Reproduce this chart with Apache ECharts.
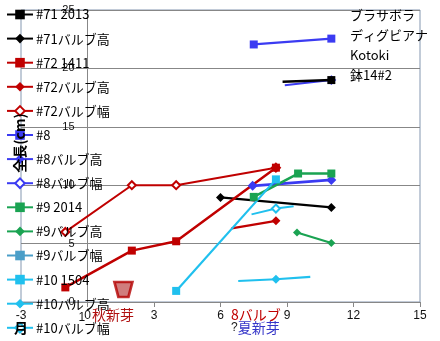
<!DOCTYPE html>
<html><head><meta charset="utf-8">
<script src="https://cdn.jsdelivr.net/npm/echarts@6/dist/echarts.min.js"></script>
<style>html,body{margin:0;padding:0;background:#fff}#c{width:440px;height:341px}</style>
</head><body><div id="c"></div>
<script>
// axis ranges / ticks
const xMin = -3, xMax = 15, xStep = 3;
const yMin = 0, yMax = 25, yStep = 5;

// series values (x = month, y = length cm)
const x71a = [8.8, 11.0],            y71a = [18.85, 19.0];
const x71h = [6.0, 11.0],            y71h = [8.95, 8.1];
const x72a = [-1, 2, 4, 8.5],        y72a = [1.25, 4.4, 5.2, 11.5];
const x72h = [6.5, 8.5],             y72h = [6.3, 6.95];
const x72w = [-1, 2, 4, 8.5],        y72w = [6.0, 10.0, 10.0, 11.5];
const x8a  = [7.5, 11.0],            y8a  = [22.05, 22.55];
const x8h  = [7.45, 11.0],           y8h  = [9.95, 10.45];
const x8w  = [8.9, 11.0],            y8w  = [18.55, 19.0];
const x9a  = [7.5, 9.5, 11.0],       y9a  = [9.0, 11.0, 11.0];
const x9h  = [9.45, 11.0],           y9h  = [5.95, 5.05];
const x9w  = [],                     y9w  = [];
const x10a = [4, 8.5],               y10a = [0.95, 10.5];
const x10h = [6.8, 8.5, 10.05],      y10h = [1.8, 1.95, 2.15];
const x10w = [7.4, 8.5, 9.3],        y10w = [7.5, 8.0, 8.2];

// annotation shape position (秋新芽 marker)
const annX = [1.62], annY = [1.07];

const legendNames = ['#71 2013','#71バルブ高','#72 1411','#72バルブ高','#72バルブ幅',
  '#8','#8バルブ高','#8バルブ幅','#9 2014','#9バルブ高','#9バルブ幅',
  '#10 1504','#10バルブ高','#10バルブ幅'];
const rightLabels = ['ブラサボラ','ディグビアナ','Kotoki','鉢14#2'];

function pts(xs, ys, marked) {
  return xs.map((x, i) => {
    const d = { value: [x, ys[i]] };
    if (marked && marked.indexOf(i) < 0) d.symbol = 'none';
    return d;
  });
}
function line(name, xs, ys, color, symbol, size, width, marked, z) {
  const empty = symbol.indexOf('empty') === 0;
  return {
    name, type: 'line', data: pts(xs, ys, marked), z: z || 2,
    symbol, symbolSize: size, showAllSymbol: true,
    lineStyle: { color, width },
    itemStyle: { color, borderColor: color, borderWidth: empty ? 1.2 : 0 },
    emphasis: { disabled: true }, animation: false
  };
}
const RED = '#c00000', BLK = '#000000', BLU = '#3b3bf2', GRN = '#1aa352', STB = '#4a9ec8', CYA = '#20c0ee';

const series = [
  line('#71 2013', x71a, y71a, BLK, 'rect', 8, 2.5, [1], 5),
  line('#71バルブ高', x71h, y71h, BLK, 'diamond', 9, 2.2),
  line('#72バルブ幅', x72w, y72w, RED, 'emptyDiamond', 8, 2),
  line('#72 1411', x72a, y72a, RED, 'rect', 8, 2.5),
  line('#72バルブ高', x72h, y72h, RED, 'diamond', 9, 2.2, [1]),
  line('#8', x8a, y8a, BLU, 'rect', 8, 2.2),
  line('#8バルブ幅', x8w, y8w, BLU, 'emptyDiamond', 7, 2, [1]),
  line('#8バルブ高', x8h, y8h, BLU, 'diamond', 10, 2.8),
  line('#9 2014', x9a, y9a, GRN, 'rect', 8, 2.5),
  line('#9バルブ高', x9h, y9h, GRN, 'diamond', 8, 2.2),
  line('#9バルブ幅', x9w, y9w, STB, 'rect', 10, 2.5),
  line('#10バルブ幅', x10w, y10w, CYA, 'emptyDiamond', 8, 2, [1]),
  line('#10 1504', x10a, y10a, CYA, 'rect', 8, 2.2),
  line('#10バルブ高', x10h, y10h, CYA, 'diamond', 9, 2.2, [1]),
  { name: 'ann', type: 'scatter', data: annX.map((x, i) => [x, annY[i]]),
    symbol: 'path://M0,0 L18,0 L14,15 L4,15 Z', symbolSize: [18, 15],
    itemStyle: { color: '#c45c5c', borderColor: '#b40000', borderWidth: 2.5 },
    silent: true, animation: false }
];

const FONT = '"Noto Sans CJK JP", "Noto Sans", sans-serif';
const GL = 21, GR = 20, W = 440;
const plotW = W - GL - GR;
const yAxisOffset = -plotW * (0 - xMin) / (xMax - xMin); // place y axis at x = 0

const chart = echarts.init(document.getElementById('c'), null, { renderer: 'canvas' });
chart.setOption({
  animation: false,
  grid: { left: GL, top: 10, right: GR, bottom: 39, show: true, borderColor: '#8497b0', borderWidth: 1, containLabel: false },
  xAxis: {
    type: 'value', min: xMin, max: xMax, interval: xStep,
    axisLine: { show: true, onZero: false, lineStyle: { color: '#878787', width: 1 } },
    axisTick: { show: true, length: 5, lineStyle: { color: '#878787' } },
    splitLine: { show: false },
    axisLabel: { color: '#111', fontSize: 12, margin: 8, fontFamily: 'Liberation Sans, sans-serif' }
  },
  yAxis: {
    type: 'value', min: yMin, max: yMax, interval: yStep, offset: yAxisOffset,
    axisLine: { show: true, onZero: false, lineStyle: { color: '#878787', width: 1 } },
    axisTick: { show: false },
    splitLine: { show: true, lineStyle: { color: '#878787', width: 1 } },
    axisLabel: { color: '#111', fontSize: 11, margin: 13, fontFamily: 'Liberation Sans, sans-serif' }
  },
  legend: {
    orient: 'vertical', left: 6, top: 8, height: 400, padding: 0,
    itemWidth: 26, itemHeight: 12, itemGap: 11.1,
    data: legendNames, selectedMode: false,
    textStyle: { fontSize: 13, color: '#000', fontFamily: FONT, padding: [0, 0, 0, -2] }
  },
  graphic: [
    ...rightLabels.map((t, i) => ({
      type: 'text', left: 350, top: 9 + i * 20, z: 100,
      style: { text: t, font: '13px ' + FONT, fill: '#000' }
    })),
    { type: 'text', x: 20, y: 143, rotation: Math.PI / 2, z: 100,
      style: { text: '全長(cm)', font: 'bold 14px ' + FONT, fill: '#000', textAlign: 'center', textVerticalAlign: 'middle' } },
    { type: 'text', left: 14, top: 321, z: 100,
      style: { text: '月', font: 'bold 14px ' + FONT, fill: '#000' } },
    { type: 'text', left: 78.5, top: 312, z: 100,
      style: { text: '1', font: '12px Liberation Sans, sans-serif', fill: '#111' } },
    { type: 'text', left: 92, top: 308, z: 100,
      style: { text: '秋新芽', font: '14px ' + FONT, fill: '#b01010' } },
    { type: 'text', left: 231, top: 308, z: 100,
      style: { text: '8バルブ', font: '14px ' + FONT, fill: '#c00000' } },
    { type: 'text', left: 231, top: 321, z: 100,
      style: { text: '{k|?}{b|夏新芽}', rich: { k: { fill: '#222', font: '12px Liberation Sans, sans-serif' }, b: { fill: '#3535c8', font: '14px ' + FONT } } } }
  ],
  series
});
</script>
</body></html>
